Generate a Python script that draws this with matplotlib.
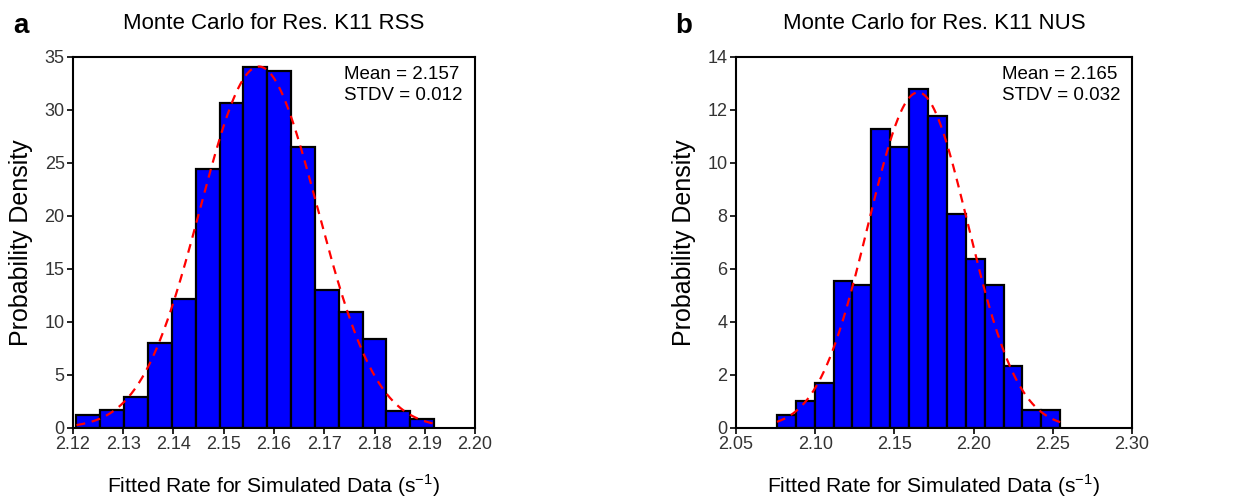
import matplotlib
matplotlib.use("Agg")
import matplotlib.pyplot as plt
import numpy as np

plt.rcParams['font.family'] = ['Liberation Sans', 'DejaVu Sans']

# panel a: RSS
rss_bin_start = 2.1207
rss_bin_width = 0.004745
rss_density = [1.26, 1.67, 2.93, 8.0, 12.19, 24.39, 30.69, 34.06,
               33.68, 26.53, 13.01, 10.93, 8.41, 1.64, 0.82]
rss_mean = 2.157
rss_sd = 0.0117
rss_xticks = [2.12, 2.13, 2.14, 2.15, 2.16, 2.17, 2.18, 2.19, 2.20]
rss_yticks = [0, 5, 10, 15, 20, 25, 30, 35]

# panel b: NUS
nus_bin_start = 2.0759
nus_bin_width = 0.01192
nus_density = [0.49, 1.01, 1.69, 5.54, 5.38, 11.28, 10.61, 12.79,
               11.78, 8.08, 6.39, 5.38, 2.34, 0.67, 0.67]
nus_mean = 2.165
nus_sd = 0.0315
nus_xticks = [2.05, 2.10, 2.15, 2.20, 2.25, 2.30]
nus_yticks = [0, 2, 4, 6, 8, 10, 12, 14]

fig = plt.figure(figsize=(12.58, 4.99), dpi=100)
ax1 = fig.add_axes([0.058, 0.1423, 0.3196, 0.7435])
ax2 = fig.add_axes([0.585, 0.1423, 0.3148, 0.7435])


def draw(ax, start, width, dens, mean, sd, xt, yt, title, stats):
    n = len(dens)
    edges = start + width * np.arange(n + 1)
    ax.bar(edges[:-1], dens, width=width, align='edge', color='#0000ff',
           edgecolor='black', linewidth=1.6, zorder=2)
    # fitted normal curve
    x = np.linspace(edges[0], edges[-1], 300)
    y = np.exp(-0.5 * ((x - mean) / sd) ** 2) / (sd * np.sqrt(2 * np.pi))
    ax.plot(x, y, color='red', linestyle=(0, (4, 3)), linewidth=1.6, zorder=3)
    ax.set_xlim(xt[0], xt[-1])
    ax.set_ylim(yt[0], yt[-1])
    ax.set_xticks(xt)
    ax.set_xticklabels(['{:.2f}'.format(v) for v in xt])
    ax.set_yticks(yt)
    ax.tick_params(direction='out', length=4, width=1.2, labelsize=13,
                   labelcolor='#333333', top=False, right=False, pad=2)
    for s in ax.spines.values():
        s.set_linewidth(1.5)
    ax.set_xlabel('Fitted Rate for Simulated Data (s$^{\\mathregular{-1}}$)',
                  fontsize=15.2, labelpad=14)
    ax.set_ylabel('Probability Density', fontsize=18, labelpad=8)
    ax.set_title(title, fontsize=16, pad=20)
    ax.text(0.97, 0.975, stats, transform=ax.transAxes, ha='right', va='top',
            fontsize=13.5, multialignment='left', linespacing=1.3)


draw(ax1, rss_bin_start, rss_bin_width, rss_density, rss_mean, rss_sd,
     rss_xticks, rss_yticks, 'Monte Carlo for Res. K11 RSS',
     'Mean = 2.157\nSTDV = 0.012')
draw(ax2, nus_bin_start, nus_bin_width, nus_density, nus_mean, nus_sd,
     nus_xticks, nus_yticks, 'Monte Carlo for Res. K11 NUS',
     'Mean = 2.165\nSTDV = 0.032')

fig.text(0.0103, 0.934, 'a', fontsize=20, fontweight='bold', va='baseline')
fig.text(0.5366, 0.934, 'b', fontsize=20, fontweight='bold', va='baseline')

fig.savefig('out.png', dpi=100)
